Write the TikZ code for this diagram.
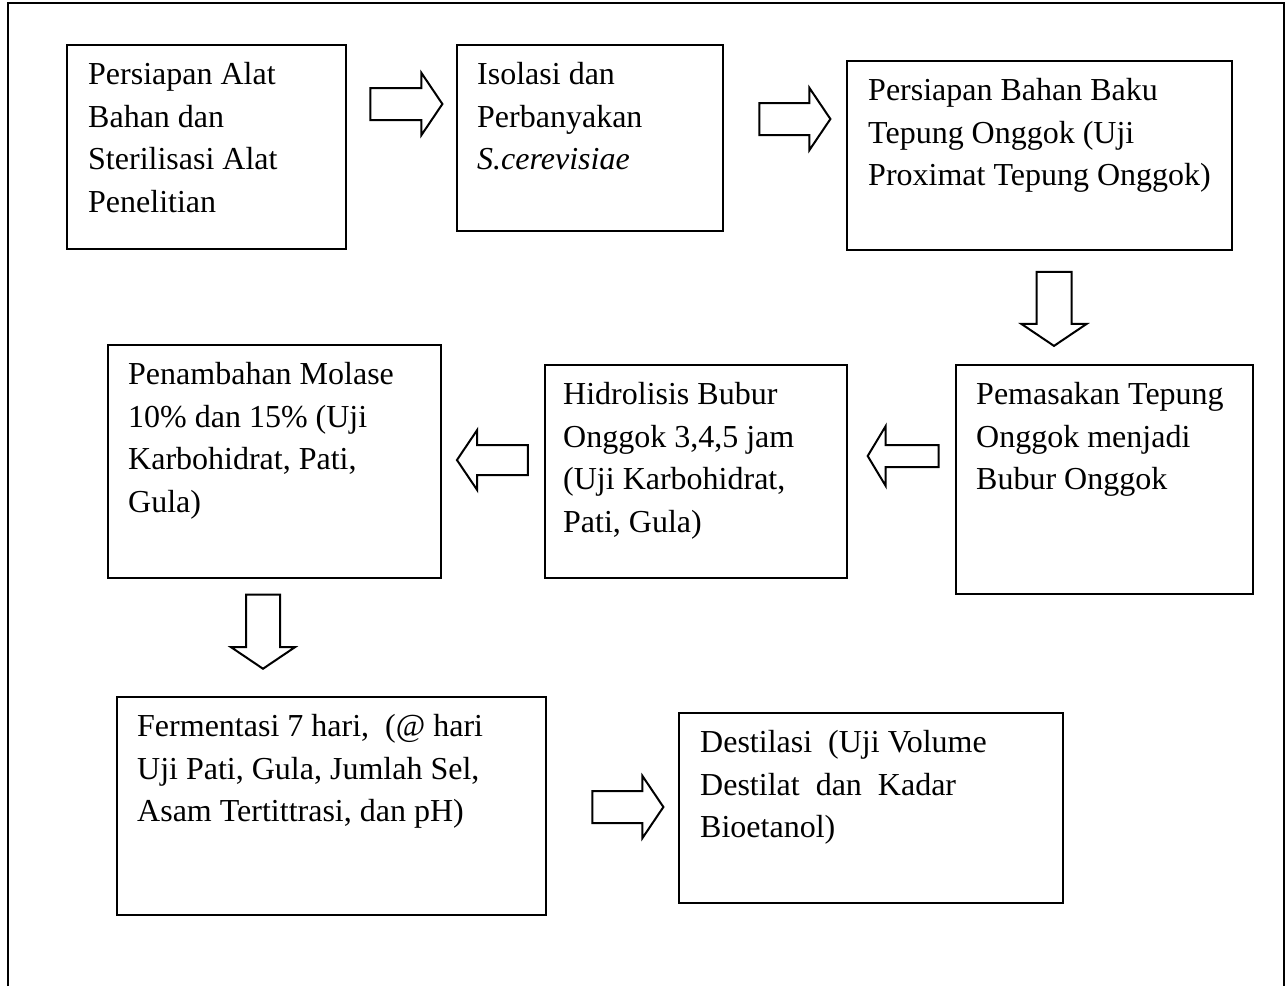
\documentclass[tikz,border=0pt]{standalone}
\usepackage{fontspec}
\setmainfont{Liberation Serif}
\usetikzlibrary{positioning,calc,shapes.arrows}
\tikzstyle{proc}=[draw,line width=2pt,inner sep=0pt,outer sep=0pt,anchor=north west]
\tikzstyle{txt}=[anchor=north west,inner sep=0pt,align=left,
                 font=\fontsize{32}{42.7}\selectfont]
\tikzstyle{blk}=[single arrow,draw,line width=2pt,inner sep=0pt,inner ysep=15pt,
                 single arrow head extend=15pt,single arrow tip angle=112,
                 minimum height=72pt]

\begin{document}
\begin{tikzpicture}[x=1pt,y=-1pt]
    \useasboundingbox (0,0) rectangle (1286,986);
    % page frame, open at the bottom
    \draw[line width=2pt] (8,986) -- (8,3) -- (1284,3) -- (1284,986);
    %
    \node[proc,minimum width=279pt,minimum height=204pt](alat)   at (67,45){};
    \node[proc,minimum width=266pt,minimum height=186pt](isolasi)at (457,45){};
    \node[proc,minimum width=385pt,minimum height=189pt](bahan)  at (847,61){};
    \node[proc,minimum width=297pt,minimum height=229pt](masak)  at (956,365){};
    \node[proc,minimum width=302pt,minimum height=213pt](hidro)  at (545,365){};
    \node[proc,minimum width=333pt,minimum height=233pt](molase) at (108,345){};
    \node[proc,minimum width=429pt,minimum height=218pt](ferm)   at (117,697){};
    \node[proc,minimum width=384pt,minimum height=190pt](destil) at (679,713){};
    %
    \node[txt](alat-t)at([shift={(21,17)}]alat.north west)
      {Persiapan Alat\\Bahan dan\\Sterilisasi Alat\\Penelitian};
    \node[txt](isolasi-t)at([shift={(20,17)}]isolasi.north west)
      {Isolasi dan\\Perbanyakan\\\textit{S.cerevisiae}};
    \node[txt](bahan-t)at([shift={(21,17)}]bahan.north west)
      {Persiapan Bahan Baku\\Tepung Onggok (Uji\\Proximat Tepung Onggok)};
    \node[txt](masak-t)at([shift={(20,17)}]masak.north west)
      {Pemasakan Tepung\\Onggok menjadi\\Bubur Onggok};
    \node[txt](hidro-t)at([shift={(18,17)}]hidro.north west)
      {Hidrolisis Bubur\\Onggok 3,4,5 jam\\(Uji Karbohidrat,\\Pati, Gula)};
    \node[txt](molase-t)at([shift={(20,17)}]molase.north west)
      {Penambahan Molase\\10\% dan 15\% (Uji\\Karbohidrat, Pati,\\Gula)};
    \node[txt](ferm-t)at([shift={(20,17)}]ferm.north west)
      {Fermentasi 7 hari,\ \ (@ hari\\Uji Pati, Gula, Jumlah Sel,\\Asam Tertittrasi, dan pH)};
    \node[txt](destil-t)at([shift={(21,17)}]destil.north west)
      {Destilasi\ \ (Uji Volume\\Destilat\ \ dan\ \ Kadar\\Bioetanol)};
    %
    \node[blk](ar1)at(401,104){};
    \node[blk,minimum height=71pt](ar2)at(789.5,119){};
    \node[blk,rotate=-90,inner ysep=16.5pt,minimum height=74pt](ar3)at(1054,303){};
    \node[blk,rotate=180,inner ysep=10pt,single arrow head extend=19pt,
          single arrow tip angle=118,minimum height=71pt](ar4)at(906.5,456){};
    \node[blk,rotate=180,inner ysep=14pt,minimum height=71pt](ar5)at(497.5,460){};
    \node[blk,rotate=-90,inner ysep=16pt,minimum height=74pt](ar6)at(263,626){};
    \node[blk,minimum height=71pt](ar7)at(622.5,807){};
\end{tikzpicture}
\end{document}
